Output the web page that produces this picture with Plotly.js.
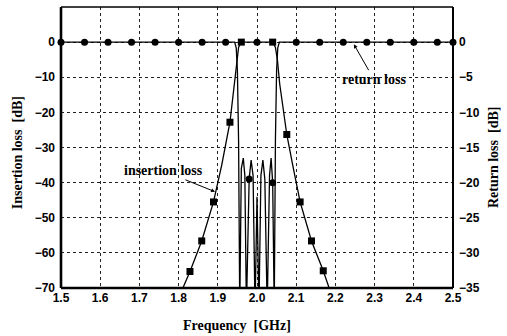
<!DOCTYPE html>
<html>
<head>
<meta charset="utf-8">
<script src="https://cdn.plot.ly/plotly-3.0.1.min.js"></script>
<style>html,body{margin:0;padding:0;background:#fff;}#chart{width:507px;height:336px;}</style>
</head>
<body>
<div id="chart"></div>
<script>
// Insertion loss (left axis, dB)
var ilFreq = [1.800,1.811,1.829,1.859,1.889,1.910,1.931,1.942,1.948,1.953,1.958,1.965,2.035,2.042,2.047,2.052,2.058,2.076,2.092,2.110,2.139,2.169,2.184,2.195];
var ilLoss = [-75,-70,-65.3,-56.6,-45.5,-35,-22.8,-12,-5,-1.5,-0.3,0,0,-0.3,-1.5,-5,-12,-26.3,-35.5,-45.5,-56.6,-65.1,-70,-74];
var ilMarkFreq = [1.829,1.859,1.889,1.931,1.960,2.000,2.040,2.076,2.110,2.139,2.169];
var ilMarkLoss = [-65.3,-56.6,-45.5,-22.8,0,0,0,-26.3,-45.5,-56.6,-65.1];
var ilMarkSymbol = ['square','square','square','square','square','circle','square','square','square','square','square'];

// Return loss (right axis, dB)
var rlFreq = [1.500,1.943,1.947,1.950,1.953,1.956,1.960,1.965,1.969,1.973,1.980,1.985,1.990,1.995,2.000,2.005,2.010,2.015,2.020,2.026,2.032,2.036,2.040,2.044,2.047,2.050,2.053,2.057,2.500];
var rlLoss = [0,0,-0.8,-4,-14,-38,-18,-16.5,-19,-38,-19.5,-16.8,-19,-38,-22,-38,-19,-16.8,-19.5,-38,-19,-16.5,-20,-38,-14,-4,-0.8,0,0];
var rlMarkFreq = [1.50,1.56,1.62,1.68,1.74,1.80,1.86,1.92,1.98,2.04,2.10,2.16,2.22,2.28,2.34,2.40,2.46,2.50];
var rlMarkLoss = [0,0,0,0,0,0,0,0,-19.5,-20,0,0,0,0,0,0,0,0];

// Axis ticks
var xTicks = [1.5,1.6,1.7,1.8,1.9,2.0,2.1,2.2,2.3,2.4,2.5];
var xTickText = ['1.5','1.6','1.7','1.8','1.9','2.0','2.1','2.2','2.3','2.4','2.5'];
var yLeftTicks = [0,-10,-20,-30,-40,-50,-60,-70];
var yRightTicks = [0,-5,-10,-15,-20,-25,-30,-35];

var tickFont = {family:'Liberation Sans, Arial, sans-serif', size:12, color:'#000', weight:'bold'};
var titleFont = {family:'Liberation Serif, Times New Roman, serif', size:14, color:'#000', weight:'bold'};

var traces = [
  {x: ilFreq, y: ilLoss, type:'scatter', mode:'lines', line:{color:'#000', width:1.3}, yaxis:'y', hoverinfo:'skip'},
  {x: rlFreq, y: rlLoss, type:'scatter', mode:'lines', line:{color:'#000', width:1.3}, yaxis:'y2', hoverinfo:'skip'},
  {x: ilMarkFreq, y: ilMarkLoss, type:'scatter', mode:'markers', marker:{color:'#000', size:7, symbol: ilMarkSymbol}, yaxis:'y', cliponaxis:false},
  {x: rlMarkFreq, y: rlMarkLoss, type:'scatter', mode:'markers', marker:{color:'#000', size:7, symbol:'circle'}, yaxis:'y2', cliponaxis:false}
];

var layout = {
  width:507, height:336,
  margin:{l:61, r:54, t:7, b:48},
  paper_bgcolor:'#fff', plot_bgcolor:'#fff',
  showlegend:false,
  xaxis:{range:[1.5,2.5], tickvals:xTicks, ticktext:xTickText, showgrid:true, gridcolor:'#222', griddash:'dot', gridwidth:1,
         zeroline:false, showline:false, ticks:'', tickfont:tickFont, ticklabelstandoff:1, fixedrange:true},
  yaxis:{range:[-70,10], tickvals:yLeftTicks, showgrid:true, gridcolor:'#222', griddash:'dot', gridwidth:1,
         zeroline:false, showline:false, ticks:'', tickfont:tickFont, ticklabelstandoff:5},
  yaxis2:{range:[-35,5], tickvals:yRightTicks, overlaying:'y', side:'right', showgrid:false, zeroline:false, showline:false,
          ticks:'', tickfont:tickFont, ticklabelstandoff:5},
  shapes:[
    {type:'line', xref:'paper', yref:'paper', x0:0, x1:1, y0:0, y1:0, line:{color:'#000', width:2.6}},
    {type:'line', xref:'paper', yref:'paper', x0:0, x1:0, y0:0, y1:1, line:{color:'#000', width:2.6}},
    {type:'line', xref:'paper', yref:'paper', x0:0, x1:1, y0:1, y1:1, line:{color:'#000', width:1.6}},
    {type:'line', xref:'paper', yref:'paper', x0:1, x1:1, y0:0, y1:1, line:{color:'#000', width:2}}
  ],
  annotations:[
    {text:'return loss', x:2.247, y:-0.6, xref:'x', yref:'y', ax:20, ay:35, showarrow:true, arrowhead:2, arrowsize:0.8, arrowwidth:1, arrowcolor:'#000', font:{family:titleFont.family, size:14, color:'#000', weight:'bold'}},
    {text:'insertion loss', x:1.893, y:-42.6, xref:'x', yref:'y', ax:-52, ay:-21, showarrow:true, arrowhead:2, arrowsize:0.8, arrowwidth:1, arrowcolor:'#000', font:{family:titleFont.family, size:14, color:'#000', weight:'bold'}},
    {text:'Frequency  [GHz]', xref:'paper', yref:'paper', x:0.449, y:-0.135, xanchor:'center', yanchor:'middle', showarrow:false, font:titleFont},
    {text:'Insertion loss  [dB]', xref:'paper', yref:'paper', x:-0.112, y:0.48, xanchor:'center', yanchor:'middle', textangle:-90, showarrow:false, font:titleFont},
    {text:'Return loss  [dB]', xref:'paper', yref:'paper', x:1.102, y:0.466, xanchor:'center', yanchor:'middle', textangle:-90, showarrow:false, font:titleFont}
  ]
};

Plotly.newPlot('chart', traces, layout, {staticPlot:true, displayModeBar:false});
</script>
</body>
</html>
